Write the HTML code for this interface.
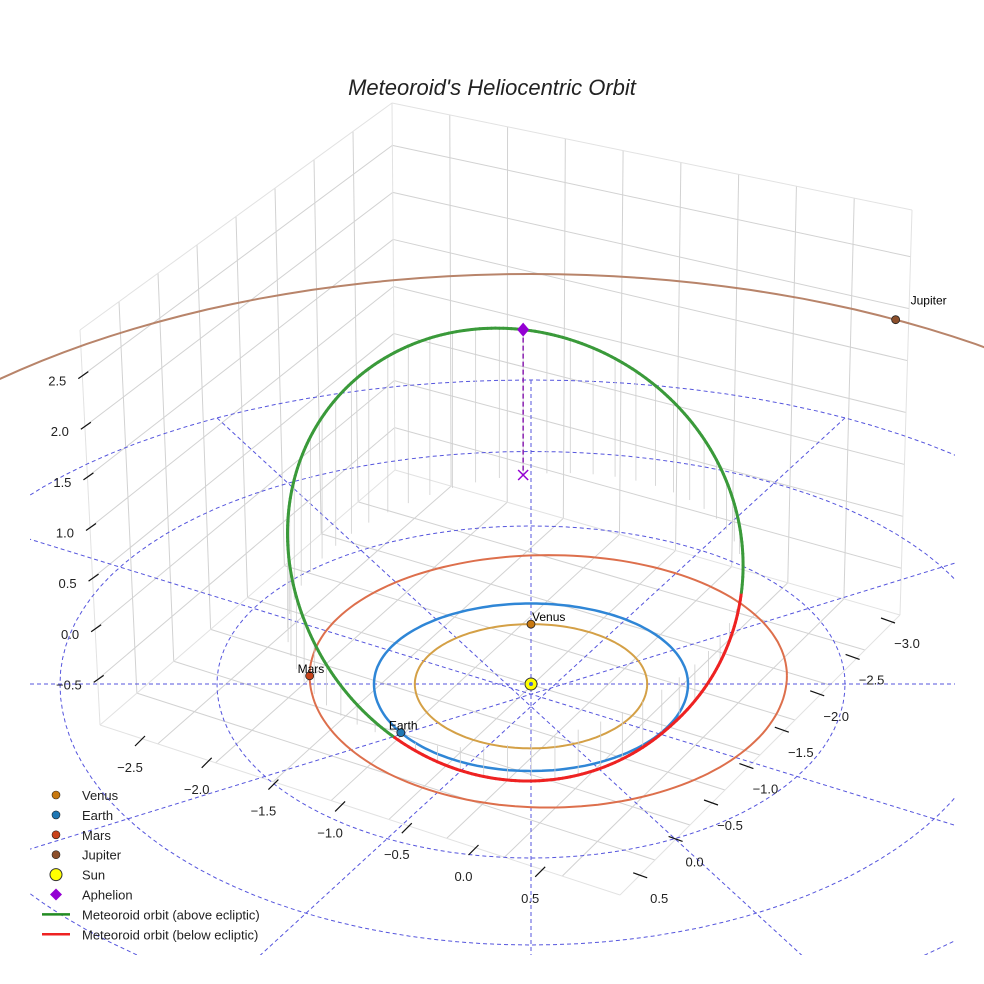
<!DOCTYPE html>
<html><head><meta charset="utf-8"><style>
html,body{margin:0;padding:0;background:#fff;overflow:hidden;width:984px;height:984px}
svg{display:block;font-family:"Liberation Sans",sans-serif}
</style></head><body>
<svg id="chart" width="984" height="984" viewBox="0 0 984 984" xmlns="http://www.w3.org/2000/svg">
<rect width="984" height="984" fill="#fff"/>
<text x="492" y="95" text-anchor="middle" font-size="22" font-style="italic" fill="#222">Meteoroid's Heliocentric Orbit</text>
<g id="box"></g>
<defs><clipPath id="clip"><rect x="30" y="40" width="925" height="915"/></clipPath></defs>
<g id="polar" clip-path="url(#clip)"></g>
<g id="orbits"></g>
<g id="ticks"></g>
<g id="legend"></g>
</svg>
<script>
// ---- data ----
const planetNames = ["Venus","Earth","Mars","Jupiter"];
const planetRadii = [0.74, 1.0, 1.52, 5.0];
const planetCenterU = [0, 0, 0.11, 0];
const planetCenterV = [0, 0, 0.1, 0];
const planetAngles = [90, 214, 180, 62.7];
const planetColors = ["#c8780f","#1f77b4","#c8431a","#8c4f2b"];
const orbitColors = ["#d4a046","#2f86d6","#dd6f4c","#b8846a"];
const polarRings = [1,2,3,4];
const polarSpokes = [0,30,60,90,120,150];
const orbitCenter = [-0.1, 0.99, 0.58];
const orbitAxisA = [0.05, 1.69, 0.95];
const orbitAxisB = [-1.45, -0.3, 0.50];
const zTicks = ["−0.5","0.0","0.5","1.0","1.5","2.0","2.5"];
const xTicks = ["−2.5","−2.0","−1.5","−1.0","−0.5","0.0","0.5"];
const yTicks = ["−3.0","−2.5","−2.0","−1.5","−1.0","−0.5","0.0","0.5"];
const legendLabels = ["Venus","Earth","Mars","Jupiter","Sun","Aphelion","Meteoroid orbit (above ecliptic)","Meteoroid orbit (below ecliptic)"];

const NS="http://www.w3.org/2000/svg";
function mk(tag,attrs,parent){const e=document.createElementNS(NS,tag);for(const k in attrs)e.setAttribute(k,attrs[k]);parent.appendChild(e);return e;}
const CX=531,CY=684;
function fv(v){return v>0?82*v-1.5*v*v:87*v;}
function proj(u,v,z){return [CX+157*u, CY-fv(v)-95*z];}
function projJ(u,v){return [CX+159*u, CY-82*v];}

// ---- panes ----
const box=document.getElementById('box');
const A=[80,330],B=[392,103],C=[395,470],D=[100,725],E=[912,210],F=[900,615],G=[620,895];
function lerp(p,q,t){return [p[0]+(q[0]-p[0])*t,p[1]+(q[1]-p[1])*t];}
function line(p,q,col,w,par,name){const l=mk('line',{x1:p[0],y1:p[1],x2:q[0],y2:q[1],stroke:col,'stroke-width':w},par);return l;}
const zTop=2.95,zBot=-0.95;
for(let i=0;i<zTicks.length;i++){const z=-0.5+0.5*i;const f=(zTop-z)/(zTop-zBot);
 const pl=lerp(A,D,f),pb=lerp(B,C,f),pr=lerp(E,F,f);
 line(pl,pb,'#d2d2d2',1,box,'wall-gridline');line(pb,pr,'#d2d2d2',1,box,'wall-gridline');}
for(let i=1;i<8;i++){const f=i/8;line(lerp(A,B,f),lerp(D,C,f),'#d2d2d2',1,box,'wall-gridline');}
for(let i=1;i<9;i++){const f=i/9;line(lerp(B,E,f),lerp(C,F,f),'#d2d2d2',1,box,'wall-gridline');}
for(let i=1;i<8;i++){const f=i/8;line(lerp(D,C,f),lerp(G,F,f),'#d2d2d2',1,box,'floor-gridline');}
for(let i=1;i<9;i++){const f=i/9;line(lerp(D,G,f),lerp(C,F,f),'#d2d2d2',1,box,'floor-gridline');}
[[A,B],[B,E],[B,C],[A,D],[E,F],[D,C],[C,F],[D,G],[G,F]].forEach(s=>line(s[0],s[1],'#e2e2e2',1,box,'pane-edge'));

// ---- polar grid ----
const polar=document.getElementById('polar');
polarRings.forEach(r=>{let d='';for(let a=0;a<=360;a+=3){const t=a*Math.PI/180;const p=proj(r*Math.cos(t),r*Math.sin(t),0);d+=(a?'L':'M')+p[0].toFixed(1)+' '+p[1].toFixed(1);}
 const e=mk('path',{d:d,fill:'none',stroke:'#5555dd','stroke-width':1,'stroke-dasharray':'4 3'},polar);
 });
polarSpokes.forEach(a=>{const t=a*Math.PI/180;const s=Math.sin(t);const R1=s>0.01?4:7,R2=7;
 const p=proj(R1*Math.cos(t),R1*s,0),q=proj(-R2*Math.cos(t),-R2*s,0);
 const e=mk('line',{x1:p[0],y1:p[1],x2:q[0],y2:q[1],stroke:'#5555dd','stroke-width':1,'stroke-dasharray':'4 3'},polar);
 });

// ---- orbits ----
const og=document.getElementById('orbits');
function ptOnPlanet(i,a){const t=a*Math.PI/180,r=planetRadii[i];const u=planetCenterU[i]+r*Math.cos(t),v=planetCenterV[i]+r*Math.sin(t);return i===3?projJ(u,v):proj(u,v,0);}
planetNames.forEach((n,i)=>{let d='';for(let a=0;a<=360;a+=2){const p=ptOnPlanet(i,a);d+=(a?'L':'M')+p[0].toFixed(1)+' '+p[1].toFixed(1);}
 const e=mk('path',{d:d,fill:'none',stroke:orbitColors[i],'stroke-width':i===1?2.5:2},og);
 });
function met(t){return [0,1,2].map(k=>orbitCenter[k]+orbitAxisA[k]*Math.cos(t)+orbitAxisB[k]*Math.sin(t));}
for(let a=0;a<360;a+=6){const P=met(a*Math.PI/180);const p=proj(P[0],P[1],P[2]),q=proj(P[0],P[1],0);
 const e=mk('line',{x1:p[0],y1:p[1],x2:q[0],y2:q[1],stroke:'#cfcfcf','stroke-width':0.8},og);
 }
let prev=null;
for(let a=0;a<=360;a+=1){const P=met(a*Math.PI/180);const p=proj(P[0],P[1],P[2]);
 if(prev){const e=mk('line',{x1:prev[0],y1:prev[1],x2:p[0],y2:p[1],stroke:P[2]>=0?'#3a9a3a':'#ee2222','stroke-width':3,'stroke-linecap':'round'},og);
 }
 prev=p;}
const AP=met(0);const ap=proj(AP[0],AP[1],AP[2]),apg=proj(AP[0],AP[1],0);
const al=mk('line',{x1:ap[0],y1:ap[1],x2:apg[0],y2:apg[1],stroke:'#8a1fb0','stroke-width':1.5,'stroke-dasharray':'5 3'},og);

const am=mk('path',{d:`M${ap[0]} ${ap[1]-7}L${ap[0]+6} ${ap[1]}L${ap[0]} ${ap[1]+7}L${ap[0]-6} ${ap[1]}Z`,fill:'#9400d3'},og);

const ax=mk('path',{d:`M${apg[0]-5} ${apg[1]-5}L${apg[0]+5} ${apg[1]+5}M${apg[0]+5} ${apg[1]-5}L${apg[0]-5} ${apg[1]+5}`,stroke:'#9400d3','stroke-width':1.5},og);

planetNames.forEach((n,i)=>{const p=ptOnPlanet(i,planetAngles[i]);
 const c=mk('circle',{cx:p[0],cy:p[1],r:4,fill:planetColors[i],stroke:'#222','stroke-width':0.8},og);
 
 const tx=i===3?p[0]+15:(i===0?p[0]+1:p[0]-12), ty=i===3?p[1]-15:p[1]-3;
 const t=mk('text',{x:tx,y:ty,'font-size':12,fill:'#000'},og);
 t.textContent=n;});
const sun=mk('circle',{cx:CX,cy:CY,r:6,fill:'#ffff00',stroke:'#333','stroke-width':1},og);

const sd=mk('circle',{cx:CX,cy:CY,r:2,fill:'#4466cc'},og);


// ---- ticks ----
const tg=document.getElementById('ticks');
function tlabel(x,y,s,anchor,name){const t=mk('text',{x:x,y:y,'font-size':13,fill:'#222','text-anchor':anchor},tg);t.textContent=s;}
zTicks.forEach((s,i)=>{const z=-0.5+0.5*i;const f=(zTop-z)/(zTop-zBot);const p=lerp(A,D,f);
 line([p[0]-4,p[1]+3],[p[0]+6,p[1]-4],'#111',1.2,tg,'z-tick');tlabel(p[0]-16,p[1]+10,s,'end','z-tick-label');});
xTicks.forEach((s,i)=>{const lx=130+66.7*i, ly=767+21.8*i;
 line([lx+5,ly-21],[lx+15,ly-31],'#111',1.2,tg,'x-tick');tlabel(lx,ly+5,s,'middle','x-tick-label');});
yTicks.forEach((s,i)=>{const lx=907-35.4*i, ly=643+36.4*i;
 line([lx-26,ly-25],[lx-12,ly-20],'#111',1.2,tg,'y-tick');tlabel(lx,ly+5,s,'middle','y-tick-label');});

// ---- legend ----
const lg=document.getElementById('legend');
legendLabels.forEach((s,i)=>{const y=795+i*19.9;let m;
 if(i<4){m=mk('circle',{cx:56,cy:y,r:4,fill:planetColors[i],stroke:'#222','stroke-width':0.6},lg);}
 else if(i===4){m=mk('circle',{cx:56,cy:y,r:6,fill:'#ffff00',stroke:'#333','stroke-width':1},lg);}
 else if(i===5){m=mk('path',{d:`M56 ${y-6}L62 ${y}L56 ${y+6}L50 ${y}Z`,fill:'#9400d3'},lg);}
 else{m=mk('line',{x1:42,y1:y,x2:70,y2:y,stroke:i===6?'#228b22':'#ee2222','stroke-width':2.5},lg);}
 
 const t=mk('text',{x:82,y:y+5,'font-size':13,fill:'#222'},lg);t.textContent=s;
 });
</script>
</body></html>
